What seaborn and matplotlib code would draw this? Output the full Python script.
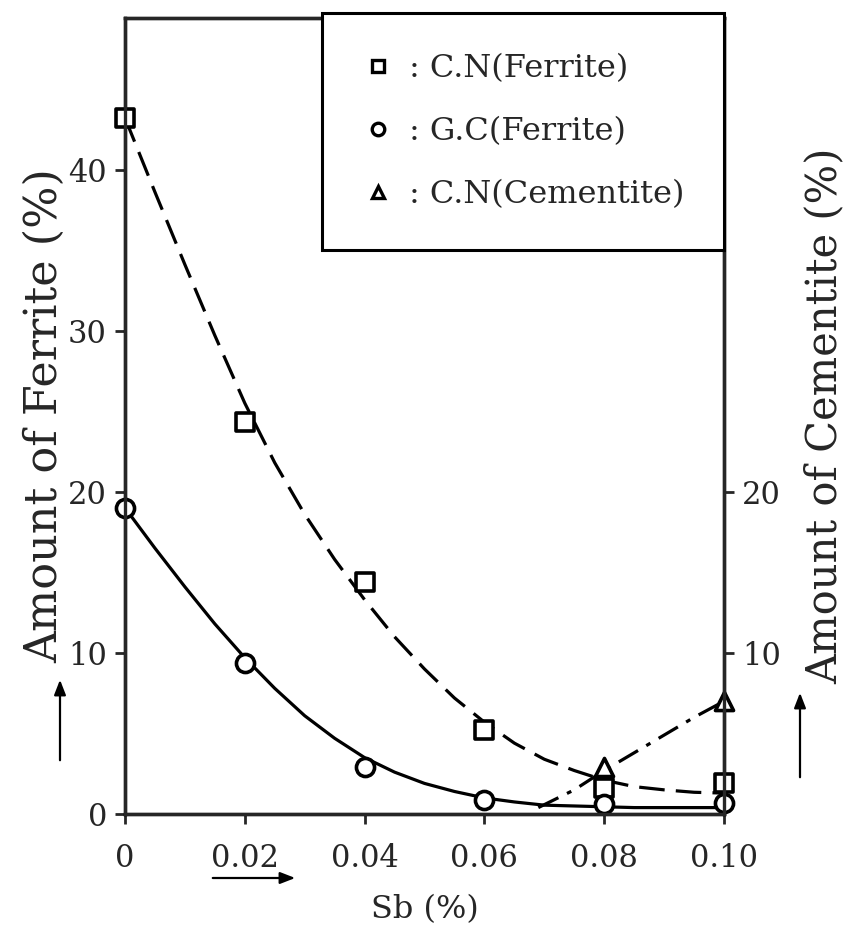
import matplotlib
matplotlib.use("Agg")
import matplotlib.pyplot as plt
import seaborn as sns
from matplotlib.lines import Line2D

# measured points
sb = [0.0, 0.02, 0.04, 0.06, 0.08, 0.10]
cn_ferrite = [43.2, 24.3, 14.4, 5.2, 1.6, 1.9]
gc_ferrite = [19.0, 9.4, 2.9, 0.9, 0.6, 0.7]
cem_sb = [0.08, 0.10]
cn_cementite = [2.9, 7.0]

# hand-drawn fit curves
curve_sb = [0.0, 0.005, 0.01, 0.015, 0.02, 0.025, 0.03, 0.035, 0.04, 0.045, 0.05,
            0.055, 0.06, 0.065, 0.07, 0.075, 0.08, 0.085, 0.09, 0.095, 0.10]
cn_fit = [43.2, 38.6, 34.1, 29.7, 25.5, 21.8, 18.6, 15.8, 13.3, 11.0, 9.0,
          7.2, 5.7, 4.4, 3.4, 2.7, 2.1, 1.7, 1.5, 1.35, 1.3]
gc_fit = [19.0, 16.5, 14.1, 11.8, 9.7, 7.8, 6.1, 4.7, 3.5, 2.6, 1.9,
          1.4, 1.0, 0.75, 0.55, 0.5, 0.45, 0.4, 0.4, 0.4, 0.4]
cem_fit_sb = [0.069, 0.075, 0.08, 0.085, 0.09, 0.095, 0.10]
cem_fit = [0.4, 1.5, 2.7, 3.8, 4.9, 6.0, 7.0]

x_ticks = [0.0, 0.02, 0.04, 0.06, 0.08, 0.10]
x_labels = ["0", "0.02", "0.04", "0.06", "0.08", "0.10"]
left_ticks = [0, 10, 20, 30, 40]
right_ticks = [10, 20]
legend_labels = [": C.N(Ferrite)", ": G.C(Ferrite)", ": C.N(Cementite)"]

sns.set_style("ticks")
plt.rcParams["font.family"] = ["DejaVu Serif"]

fig = plt.figure(figsize=(8.52, 9.30), dpi=100)
ax = fig.add_axes([0.1467, 0.1247, 0.7031, 0.8559])

lw = 2.3
sns.lineplot(x=curve_sb, y=cn_fit, ax=ax, color="black", lw=lw, linestyle=(0, (8, 3.5)))
sns.lineplot(x=curve_sb, y=gc_fit, ax=ax, color="black", lw=lw)
sns.lineplot(x=cem_fit_sb, y=cem_fit, ax=ax, color="black", lw=lw, linestyle=(0, (7, 3, 1.5, 3)))

mk = dict(ax=ax, color="white", edgecolor="black", linewidth=2.6, s=170, zorder=5, clip_on=False)
sns.scatterplot(x=sb, y=cn_ferrite, marker="s", **mk)
sns.scatterplot(x=sb, y=gc_ferrite, marker="o", **mk)
sns.scatterplot(x=cem_sb, y=cn_cementite, marker="^", **mk)

ax.set_xlim(0, 0.10)
ax.set_ylim(0, 49.4)
ax.set_xticks(x_ticks)
ax.set_xticklabels(x_labels)
ax.set_yticks(left_ticks)
ax.tick_params(labelsize=22, width=2, length=7, direction="out", pad=6)
ax.tick_params(axis="x", pad=14)
for s in ax.spines.values():
    s.set_linewidth(2.4)
    s.set_color("black")
ax.set_xlabel("Sb (%)", fontsize=23, labelpad=14)
ax.set_ylabel("Amount of Ferrite (%)", fontsize=32, labelpad=1)

ax2 = ax.twinx()
ax2.set_ylim(ax.get_ylim())
ax2.set_yticks(right_ticks)
ax2.tick_params(labelsize=22, width=2, length=7, pad=6)
for s in ax2.spines.values():
    s.set_linewidth(2.4)
ax2.set_ylabel("Amount of Cementite (%)", fontsize=30, labelpad=16)

handles = [Line2D([], [], ls="none", marker=m, markersize=9, markerfacecolor="white",
                  markeredgecolor="black", markeredgewidth=2.4) for m in ["s", "o", "^"]]
leg = ax2.legend(handles, legend_labels, loc="upper right", bbox_to_anchor=(1.0, 1.006),
                 borderaxespad=0, fancybox=False, framealpha=1, edgecolor="black",
                 fontsize=23, handlelength=1.0, handletextpad=0.45, borderpad=1.25,
                 labelspacing=1.0)
leg.get_frame().set_linewidth(2.2)

# direction arrows
arrow = dict(arrowstyle="-|>,head_length=0.9,head_width=0.35", color="black", lw=1.6)
ax.annotate("", xy=(60 / 852, 1 - 677 / 930), xytext=(60 / 852, 1 - 763 / 930),
            xycoords="figure fraction", arrowprops=arrow)
ax.annotate("", xy=(800 / 852, 1 - 690 / 930), xytext=(800 / 852, 1 - 780 / 930),
            xycoords="figure fraction", arrowprops=arrow)
ax.annotate("", xy=(298 / 852, 1 - 878 / 930), xytext=(210 / 852, 1 - 878 / 930),
            xycoords="figure fraction", arrowprops=arrow)

fig.savefig("out.png", dpi=100)
